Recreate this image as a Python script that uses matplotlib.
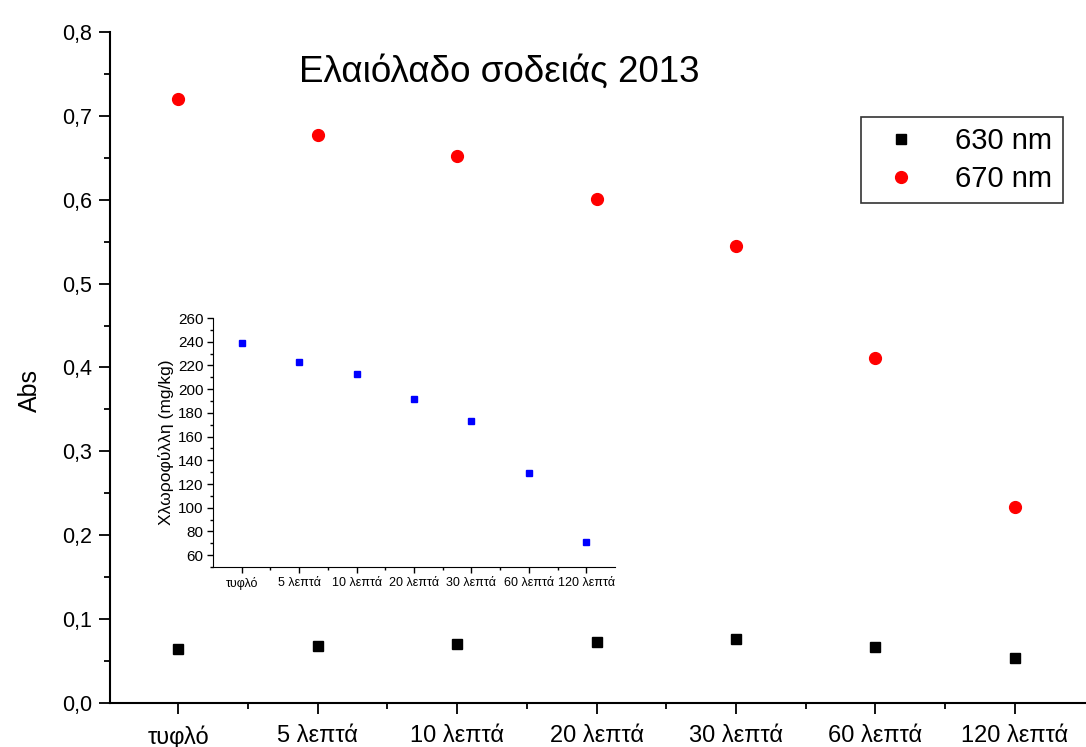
import numpy as np
import matplotlib.pyplot as plt
from matplotlib.ticker import MultipleLocator, FixedLocator, FuncFormatter

plt.rcParams['font.family'] = ['Liberation Sans', 'DejaVu Sans']

samples = ['τυφλό', '5 λεπτά', '10 λεπτά', '20 λεπτά', '30 λεπτά', '60 λεπτά', '120 λεπτά']
abs_630 = [0.064, 0.068, 0.070, 0.073, 0.076, 0.067, 0.054]
abs_670 = [0.720, 0.677, 0.652, 0.601, 0.545, 0.411, 0.234]
chlorophyll = [238.5, 222.5, 212.8, 191.5, 173.5, 129.5, 71.5]

x = np.arange(1, len(samples) + 1)
comma = FuncFormatter(lambda v, p: '{:.1f}'.format(v).replace('.', ','))

fig = plt.figure(figsize=(10.86, 7.47), dpi=100)
ax = fig.add_axes([0.1013, 0.0589, 0.8987, 0.8983])

ax.plot(x, abs_630, 's', color='black', markersize=7, label='630 nm')
ax.plot(x, abs_670, 'o', color='red', markersize=8.5, label='670 nm')

ax.set_xlim(0.51, 7.51)
ax.set_ylim(0, 0.8)
ax.set_xticks(x)
ax.set_xticklabels(samples, fontsize=17)
ax.xaxis.set_minor_locator(FixedLocator(x[:-1] + 0.5))
ax.yaxis.set_major_locator(MultipleLocator(0.1))
ax.yaxis.set_minor_locator(MultipleLocator(0.05))
ax.yaxis.set_major_formatter(comma)
ax.tick_params(axis='y', labelsize=15.5, pad=5)
ax.tick_params(axis='x', pad=8)
ax.tick_params(which='major', direction='out', length=8, width=1.3)
ax.tick_params(which='minor', direction='out', length=4, width=1.3)
for s in ['top', 'right']:
    ax.spines[s].set_visible(False)
for s in ['left', 'bottom']:
    ax.spines[s].set_linewidth(1.5)

fig.text(30 / 1086, 1 - 390 / 747, 'Abs', rotation=90, fontsize=18,
         ha='center', va='center')
fig.text(499 / 1086, 1 - 72 / 747, 'Ελαιόλαδο σοδειάς 2013', fontsize=26.5,
         ha='center', va='center')

leg = ax.legend(loc='upper right', bbox_to_anchor=(0.976, 0.873), fontsize=21,
                frameon=True, fancybox=False, edgecolor='black',
                handlelength=2.1, handletextpad=0.8, borderpad=0.35,
                labelspacing=0.32, borderaxespad=0)
leg.get_frame().set_linewidth(1.2)

# inset with chlorophyll content
ins = fig.add_axes([213 / 1086, 1 - 567 / 747, 402 / 1086, 249 / 747])
ins.plot(x, chlorophyll, 's', color='blue', markersize=5)
ins.set_xlim(0.5, 7.5)
ins.set_ylim(50, 260)
ins.set_xticks(x)
ins.set_xticklabels(samples, fontsize=9)
ins.xaxis.set_minor_locator(FixedLocator(x[:-1] + 0.5))
ins.yaxis.set_minor_locator(MultipleLocator(10))
ins.set_yticks(np.arange(60, 261, 20))
ins.tick_params(axis='y', labelsize=11)
ins.tick_params(which='major', direction='out', length=4, width=1, pad=3)
ins.tick_params(which='minor', direction='out', length=2, width=1)
ins.set_ylabel('Χλωροφύλλη (mg/kg)', fontsize=12.5, labelpad=3)
ins.patch.set_alpha(0)
for s in ['top', 'right']:
    ins.spines[s].set_visible(False)

fig.savefig('out.png', dpi=100)
